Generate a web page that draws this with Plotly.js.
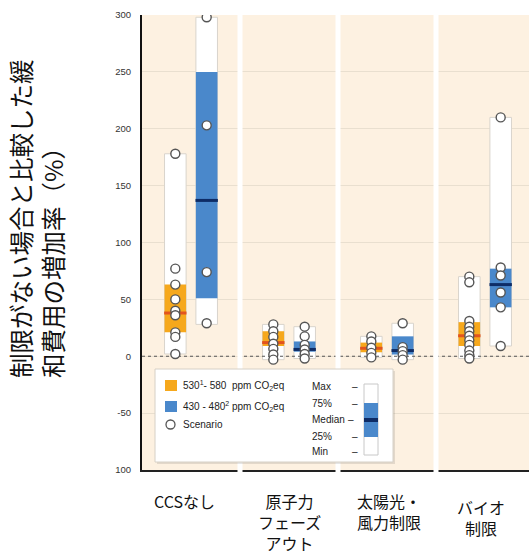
<!DOCTYPE html>
<html>
<head>
<meta charset="utf-8">
<script src="https://cdn.plot.ly/plotly-3.0.1.min.js"></script>
<style>html,body{margin:0;padding:0;background:#fff;}#chart{width:529px;height:554px;}</style>
</head>
<body>
<div id="chart"></div>
<script>
// ---- data ----
const categories = ['CCSなし', '原子力<br>フェーズ<br>アウト', '太陽光・<br>風力制限', 'バイオ<br>制限'];

// 530-580 ppm CO2eq (orange)
const oMin = [2, -3, -1, -2];
const oQ1  = [21, 9, 3.5, 9];
const oMed = [38, 12, 7, 18];
const oQ3  = [63, 22, 12, 30];
const oMax = [178, 28, 17.5, 70];
const oScenarios = [
  [178, 77, 63, 50, 40, 36, 21, 17, 2],
  [28, 22, 17, 11, 6.5, 1.5, -3],
  [17.5, 13, 7.5, 3, -1],
  [70, 65, 31, 26, 22, 18, 14, 10, 5, 1, -2]
];

// 430-480 ppm CO2eq (blue)
const bMin = [28, -2, -3, 9];
const bQ1  = [51, 4, 1.5, 43];
const bMed = [137, 6, 5, 63];
const bQ3  = [250, 13, 17.5, 77];
const bMax = [298, 26, 29, 210];
const bScenarios = [
  [298, 203, 74, 29],
  [26, 17.5, 10, 6, 2, -2],
  [29, 8, 4.5, 1, -3],
  [210, 78, 71, 56, 43, 9]
];

const yTickVals = [-100, -50, 0, 50, 100, 150, 200, 250, 300];
const yTickText = ['100', '-50', '0', '50', '100', '150', '200', '250', '300'];

// ---- styling ----
const OFF = 0.16, BW = 0.22;
const ORANGE = '#F6A81C', ORANGE_MED = '#E2541E';
const BLUE = '#4A88CB', BLUE_MED = '#0E2C66';
const idx = categories.map((c, i) => i);
const xo = idx.map(i => i - OFF);
const xb = idx.map(i => i + OFF);

function rangeBar(x, lo, hi) {
  return {type: 'bar', x: x, base: lo, y: hi.map((v, i) => v - lo[i]), width: BW,
    marker: {color: '#ffffff', line: {color: '#d9d4cc', width: 1}}, hoverinfo: 'skip', showlegend: false};
}
function iqrBar(x, lo, hi, col) {
  return {type: 'bar', x: x, base: lo, y: hi.map((v, i) => v - lo[i]), width: BW,
    marker: {color: col, line: {width: 0}}, hoverinfo: 'skip', showlegend: false};
}
function medTrace(x, med, col) {
  return {type: 'scatter', mode: 'markers', x: x, y: med,
    marker: {symbol: 'line-ew', size: 16, line: {color: col, width: 3}}, showlegend: false, hoverinfo: 'skip'};
}
function scenTrace(x, scen) {
  const xs = [], ys = [];
  scen.forEach((arr, i) => arr.forEach(v => { xs.push(x[i]); ys.push(v); }));
  return {type: 'scatter', mode: 'markers', x: xs, y: ys,
    marker: {symbol: 'circle', size: 9, color: '#ffffff', line: {color: '#555555', width: 1.4}},
    showlegend: false, hoverinfo: 'skip'};
}

const traces = [
  rangeBar(xo, oMin, oMax),
  rangeBar(xb, bMin, bMax),
  iqrBar(xo, oQ1, oQ3, ORANGE),
  iqrBar(xb, bQ1, bQ3, BLUE),
  {type: 'scatter', mode: 'lines', x: [-0.5, 3.5], y: [0, 0],
   line: {color: '#555', width: 1.2, dash: 'dot'}, showlegend: false, hoverinfo: 'skip'},
  medTrace(xo, oMed, ORANGE_MED),
  medTrace(xb, bMed, BLUE_MED),
  scenTrace(xo, oScenarios),
  scenTrace(xb, bScenarios)
];

// pixel helpers for legend decoration (plot area: left 142, width 387, bottom 470, height 455)
const px = x => (x - 142) / 387;
const py = y => (470 - y) / 455;

const shapes = [];
[0.5, 1.5, 2.5].forEach(s => shapes.push({type: 'line', xref: 'x', yref: 'paper', x0: s, x1: s,
  y0: -0.012, y1: 1.01, line: {color: '#ffffff', width: 5}, layer: 'above'}));
// legend box
shapes.push({type: 'rect', xref: 'paper', yref: 'paper', x0: px(157), x1: px(395), y0: py(464), y1: py(371),
  fillcolor: 'rgba(0,0,0,0.10)', line: {width: 0}, layer: 'above'});
shapes.push({type: 'rect', xref: 'paper', yref: 'paper', x0: px(155), x1: px(393), y0: py(462), y1: py(369),
  fillcolor: '#ffffff', line: {color: '#d6d0c6', width: 1}, layer: 'above'});
shapes.push({type: 'rect', xref: 'paper', yref: 'paper', x0: px(165), x1: px(177), y0: py(391), y1: py(380),
  fillcolor: ORANGE, line: {width: 0}, layer: 'above'});
shapes.push({type: 'rect', xref: 'paper', yref: 'paper', x0: px(165), x1: px(177), y0: py(412), y1: py(401),
  fillcolor: BLUE, line: {width: 0}, layer: 'above'});
shapes.push({type: 'circle', xref: 'paper', yref: 'paper', x0: px(166), x1: px(175), y0: py(429), y1: py(420),
  fillcolor: '#ffffff', line: {color: '#555', width: 1.3}, layer: 'above'});
// mini box
shapes.push({type: 'rect', xref: 'paper', yref: 'paper', x0: px(364), x1: px(378), y0: py(455), y1: py(384),
  fillcolor: '#ffffff', line: {color: '#c8c8c8', width: 1}, layer: 'above'});
shapes.push({type: 'rect', xref: 'paper', yref: 'paper', x0: px(364), x1: px(378), y0: py(437), y1: py(403),
  fillcolor: BLUE, line: {width: 0}, layer: 'above'});
shapes.push({type: 'rect', xref: 'paper', yref: 'paper', x0: px(364), x1: px(378), y0: py(422), y1: py(418),
  fillcolor: BLUE_MED, line: {width: 0}, layer: 'above'});

const LF = {family: 'Liberation Sans, Arial, sans-serif', size: 10, color: '#222'};
const annotations = [];
function legText(x, y, t, anchor) {
  annotations.push({xref: 'paper', yref: 'paper', x: px(x), y: py(y), text: t, showarrow: false,
    xanchor: anchor || 'left', yanchor: 'middle', font: LF});
}
legText(181, 385, '530<sup>1</sup>- 580  ppm CO<sub>2</sub>eq');
legText(181, 406, '430 - 480<sup>2</sup> ppm CO<sub>2</sub>eq');
legText(181, 424, 'Scenario');
[['Max', 386], ['75%', 403], ['Median', 419], ['25%', 436], ['Min', 451]].forEach(r => legText(310, r[1], r[0]));
[386, 403, 436, 451].forEach(y => legText(355, y, '–', 'center'));
legText(351, 419, '–', 'center');

// category labels
const labelShift = [[-7, 0], [0, 0], [2, 0], [-4, -6]];
categories.forEach((c, i) => annotations.push({xref: 'x', yref: 'paper', x: i, y: py(487), text: c,
  showarrow: false, xanchor: 'center', yanchor: 'top', xshift: labelShift[i][0], yshift: labelShift[i][1],
  font: {family: 'Noto Sans CJK JP, sans-serif', size: 16, color: '#111'}}));

// y title
annotations.push({xref: 'paper', yref: 'paper', x: px(37), y: py(219), textangle: -90,
  text: '制限がない場合と比較した緩<br>和費用の増加率（%）', showarrow: false,
  xanchor: 'center', yanchor: 'middle', align: 'left',
  font: {family: 'Noto Sans CJK JP, sans-serif', size: 24.5, color: '#111'}});

const layout = {
  width: 529, height: 554,
  margin: {l: 142, r: 0, t: 15, b: 84, pad: 0},
  paper_bgcolor: '#ffffff', plot_bgcolor: '#fdf1e1',
  barmode: 'overlay', showlegend: false,
  xaxis: {range: [-0.5, 3.449], showgrid: false, zeroline: false, showticklabels: false, ticks: '',
    showline: true, linecolor: '#222', linewidth: 1.5, fixedrange: true},
  yaxis: {range: [-100, 300], tickvals: yTickVals, ticktext: yTickText, showgrid: true,
    gridcolor: '#e9dfcf', gridwidth: 1, zeroline: false, showline: true, linecolor: '#111', linewidth: 2,
    ticks: '', ticklabelstandoff: 7, tickfont: {family: 'Liberation Sans, Arial, sans-serif', size: 9.5, color: '#333'},
    fixedrange: true},
  shapes: shapes,
  annotations: annotations
};

Plotly.newPlot('chart', traces, layout, {displayModeBar: false, staticPlot: true});
</script>
</body>
</html>
